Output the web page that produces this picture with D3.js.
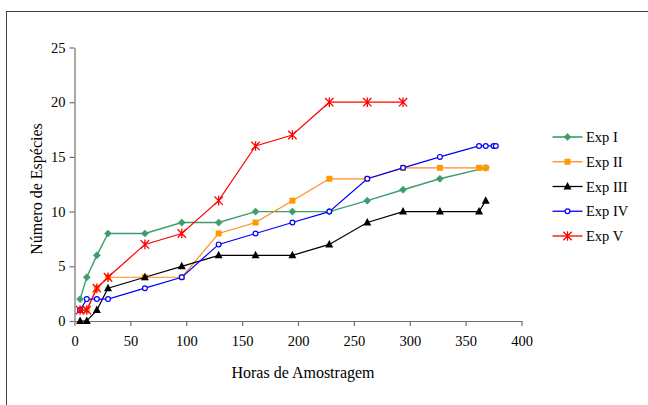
<!DOCTYPE html>
<html>
<head>
<meta charset="utf-8">
<script src="https://cdn.jsdelivr.net/npm/d3@7"></script>
<style>
  html, body { margin: 0; padding: 0; background: #fff; }
  svg { display: block; }
  text { font-family: "Liberation Serif", "Times New Roman", serif; fill: #000; }
</style>
</head>
<body>
<svg id="chart" width="648" height="405"></svg>
<script>
// Sampling hours and species counts per experiment
const hoursI   = [5, 11, 20, 30, 63, 96, 129, 162, 195, 228, 262, 294, 327, 368];
const expI     = [2, 4, 6, 8, 8, 9, 9, 10, 10, 10, 11, 12, 13, 14];

const hoursII  = [5, 11, 20, 30, 63, 96, 129, 162, 195, 228, 262, 294, 327, 362, 368];
const expII    = [1, 1, 3, 4, 4, 4, 8, 9, 11, 13, 13, 14, 14, 14, 14];

const hoursIII = [5, 11, 20, 30, 63, 96, 129, 162, 195, 228, 262, 294, 327, 362, 368];
const expIII   = [0, 0, 1, 3, 4, 5, 6, 6, 6, 7, 9, 10, 10, 10, 11];

const hoursIV  = [5, 11, 20, 30, 63, 96, 129, 162, 195, 228, 262, 294, 327, 362, 368, 375, 377];
const expIV    = [1, 2, 2, 2, 3, 4, 7, 8, 9, 10, 13, 14, 15, 16, 16, 16, 16];

const hoursV   = [5, 11, 20, 30, 63, 96, 129, 162, 195, 228, 262, 294];
const expV     = [1, 1, 3, 4, 7, 8, 11, 16, 17, 20, 20, 20];

const seriesNames = ["Exp I", "Exp II", "Exp III", "Exp IV", "Exp V"];
const xTicks = [0, 50, 100, 150, 200, 250, 300, 350, 400];
const yTicks = [0, 5, 10, 15, 20, 25];
const xTitle = "Horas de Amostragem";
const yTitle = "Número de Espécies";

const series = [
  { name: seriesNames[0], hours: hoursI,   values: expI,   line: "#3f9c6c", fill: "#3f9c6c", marker: "diamond" },
  { name: seriesNames[1], hours: hoursII,  values: expII,  line: "#ff8a1c", fill: "#ff9900", marker: "square" },
  { name: seriesNames[2], hours: hoursIII, values: expIII, line: "#000000", fill: "#000000", marker: "triangle" },
  { name: seriesNames[3], hours: hoursIV,  values: expIV,  line: "#0000ff", fill: "#ffffff", marker: "circle" },
  { name: seriesNames[4], hours: hoursV,   values: expV,   line: "#ff0000", fill: "#ff0000", marker: "star" }
];

const svg = d3.select("#chart");

// Outer chart frame (extends past the right and bottom edges)
svg.append("rect")
  .attr("x", 6.5).attr("y", 11.5)
  .attr("width", 700).attr("height", 500)
  .attr("fill", "none").attr("stroke", "#404040").attr("stroke-width", 1);

const x = d3.scaleLinear().domain([0, 400]).range([74.5, 521.5]);
const y = d3.scaleLinear().domain([0, 25]).range([321, 47.5]);

// Axes
const axisColor = "#707070";
const xAxis = svg.append("g")
  .attr("transform", `translate(0,${y(0)})`)
  .call(d3.axisBottom(x).tickValues(xTicks).tickSize(5).tickPadding(10).tickSizeOuter(0));
const yAxis = svg.append("g")
  .attr("transform", `translate(${x(0)},0)`)
  .call(d3.axisLeft(y).tickValues(yTicks).tickSize(5).tickPadding(4).tickSizeOuter(0));

[xAxis, yAxis].forEach(g => {
  g.select(".domain").attr("stroke", axisColor).attr("stroke-width", 1.2);
  g.selectAll(".tick line").attr("stroke", axisColor).attr("stroke-width", 1.2);
  g.selectAll(".tick text")
    .attr("font-family", "Liberation Serif, Times New Roman, serif")
    .attr("font-size", 14.5).attr("fill", "#000");
});

// Axis titles
svg.append("text")
  .attr("x", 303).attr("y", 378)
  .attr("text-anchor", "middle").attr("font-size", 16)
  .text(xTitle);
svg.append("text")
  .attr("transform", "translate(42,189) rotate(-90)")
  .attr("text-anchor", "middle").attr("font-size", 16)
  .text(yTitle);

// Marker drawing
function drawMarker(g, s, cx, cy) {
  if (s.marker === "diamond") {
    g.append("path")
      .attr("d", `M${cx},${cy - 3.6}L${cx + 3.6},${cy}L${cx},${cy + 3.6}L${cx - 3.6},${cy}Z`)
      .attr("fill", s.fill).attr("stroke", s.fill).attr("stroke-width", 0.5);
  } else if (s.marker === "square") {
    g.append("rect")
      .attr("x", cx - 3).attr("y", cy - 3).attr("width", 6).attr("height", 6)
      .attr("fill", s.fill);
  } else if (s.marker === "triangle") {
    g.append("path")
      .attr("d", `M${cx},${cy - 4.5}L${cx + 4},${cy + 3}L${cx - 4},${cy + 3}Z`)
      .attr("fill", s.fill);
  } else if (s.marker === "circle") {
    g.append("circle")
      .attr("cx", cx).attr("cy", cy).attr("r", 2.4)
      .attr("fill", s.fill).attr("stroke", s.line).attr("stroke-width", 1.2);
  } else if (s.marker === "star") {
    const r = 4.2;
    g.append("path")
      .attr("d", `M${cx - r},${cy - r}L${cx + r},${cy + r}M${cx - r},${cy + r}L${cx + r},${cy - r}M${cx},${cy - r - 0.6}L${cx},${cy + r + 0.6}`)
      .attr("stroke", s.fill).attr("stroke-width", 1.3).attr("fill", "none");
  }
}

const line = d3.line().x(d => x(d[0])).y(d => y(d[1]));

series.forEach(s => {
  const pts = s.hours.map((h, i) => [h, s.values[i]]);
  const g = svg.append("g");
  g.append("path")
    .attr("d", line(pts))
    .attr("fill", "none").attr("stroke", s.line)
    .attr("stroke-width", s.marker === "diamond" ? 1.4 : 1.2);
  pts.forEach(p => drawMarker(g, s, x(p[0]), y(p[1])));
});

// Legend
const legendY = d3.scalePoint().domain(seriesNames).range([137, 236]);
series.forEach(s => {
  const ly = legendY(s.name);
  const g = svg.append("g");
  g.append("line")
    .attr("x1", 552.5).attr("x2", 582.5).attr("y1", ly).attr("y2", ly)
    .attr("stroke", s.line).attr("stroke-width", s.marker === "diamond" ? 1.6 : 1.3);
  drawMarker(g, s, 567.5, ly);
  g.append("text")
    .attr("x", 586).attr("y", ly + 5)
    .attr("font-size", 14.5)
    .text(s.name);
});
</script>
</body>
</html>
